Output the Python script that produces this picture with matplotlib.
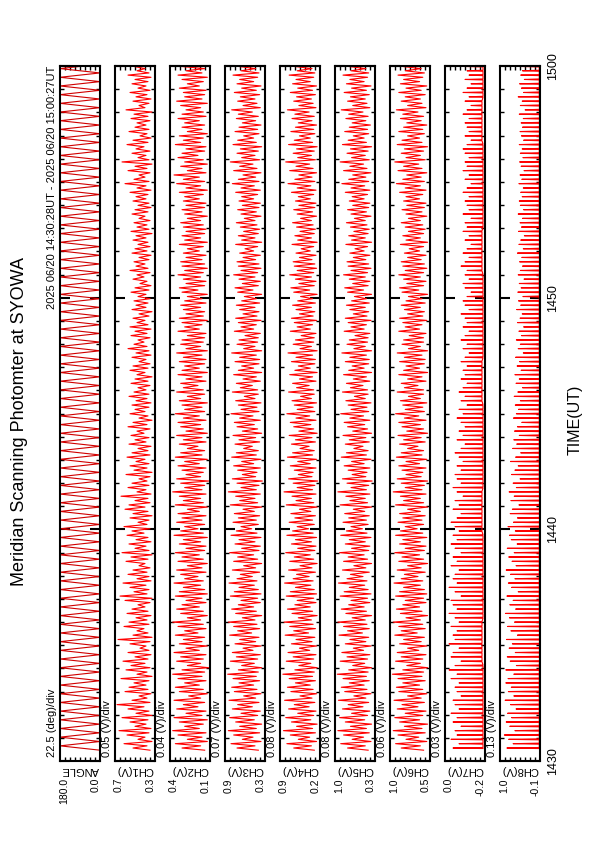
import numpy as np
import matplotlib
matplotlib.use("Agg")
import matplotlib.pyplot as plt

plt.rcParams['font.family'] = ['Liberation Sans', 'DejaVu Sans']

title = "Meridian Scanning Photomter at SYOWA"
date_text = "2025 06/20 14:30:28UT - 2025 06/20 15:00:27UT"
time_ticks = [0, 10, 20, 30]
time_labels = ["1430", "1440", "1450", "1500"]
start_min = 28 / 60.0
end_min = 30 + 27 / 60.0

channels = ["ANGLE", "CH1(V)", "CH2(V)", "CH3(V)", "CH4(V)", "CH5(V)", "CH6(V)", "CH7(V)", "CH8(V)"]
scales = ["22.5 (deg)/div", "0.05 (V)/div", "0.04 (V)/div", "0.07 (V)/div", "0.08 (V)/div",
          "0.08 (V)/div", "0.06 (V)/div", "0.03 (V)/div", "0.13 (V)/div"]
range_hi = [180.0, 0.7, 0.4, 0.9, 0.9, 1.0, 1.0, 0.0, 1.0]
range_lo = [0.0, 0.3, 0.1, 0.3, 0.2, 0.3, 0.5, -0.2, -0.1]
hi_labels = ["180.0", "0.7", "0.4", "0.9", "0.9", "1.0", "1.0", "0.0", "1.0"]
lo_labels = ["0.0", "0.3", "0.1", "0.3", "0.2", "0.3", "0.5", "-0.2", "-0.1"]

angle_turns = [0.0, 180.0] * 80 + [0.0]

ch1_peak = [0.52,0.61,0.47,0.58,0.66,0.50,0.55,0.63,0.49,0.57,0.68,0.53,0.46,0.60,0.56,0.51,
            0.64,0.48,0.59,0.54,0.62,0.50,0.57,0.45,0.55,0.67,0.52,0.48,0.61,0.56,0.49,0.58,
            0.53,0.47,0.60,0.65,0.51,0.55,0.62,0.48,0.57,0.52,0.46,0.59,0.54,0.63,0.50,0.56,
            0.49,0.58,0.53,0.61,0.47,0.55,0.52,0.60,0.56,0.50,0.64,0.48,0.57,0.53,0.46,0.59,
            0.51,0.55,0.49,0.58,0.53,0.47,0.56,0.50,0.54,0.48,0.57,0.52,0.46,0.55,0.50,0.53,
            0.49,0.56,0.51,0.47,0.54,0.50,0.48,0.55,0.52,0.46,0.53,0.49,0.57,0.51,0.47,0.54,
            0.50,0.55,0.48,0.52,0.46,0.53,0.49,0.51,0.47,0.54,0.50,0.45,0.52,0.48,0.55,0.49,
            0.51,0.46,0.53,0.50,0.47,0.52,0.49,0.54,0.48,0.51,0.46,0.53,0.50,0.47,0.52,0.49,
            0.55,0.48,0.60,0.51,0.46,0.57,0.50,0.63,0.47,0.53,0.49,0.58,0.52,0.45,0.56,0.50,
            0.48,0.54,0.51,0.59,0.46,0.52,0.49,0.55,0.47,0.53,0.50,0.57,0.48,0.51,0.46,0.54]
ch1_valley = [0.35,0.38,0.33,0.40,0.36,0.34,0.39,0.37,0.33,0.36,0.41,0.35,0.38,0.34,0.37,0.39,
              0.36,0.33,0.38,0.35,0.40,0.37,0.34,0.36,0.39,0.35,0.33,0.37,0.41,0.36,0.38,0.34,
              0.37,0.40,0.35,0.33,0.38,0.36,0.39,0.34,0.36,0.38,0.35,0.40,0.37,0.33,0.36,0.39,
              0.34,0.37,0.41,0.35,0.38,0.36,0.33,0.37,0.40,0.35,0.37,0.34,0.39,0.36,0.38,0.35,
              0.33,0.38,0.36,0.40,0.35,0.37,0.34,0.39,0.36,0.41,0.35,0.38,0.33,0.37,0.40,0.36,
              0.34,0.38,0.36,0.39,0.35,0.37,0.33,0.40,0.37,0.35,0.39,0.34,0.36,0.38,0.41,0.35,
              0.38,0.34,0.37,0.40,0.36,0.33,0.39,0.37,0.35,0.39,0.36,0.34,0.38,0.41,0.35,0.37,
              0.40,0.36,0.34,0.38,0.35,0.37,0.39,0.33,0.36,0.38,0.35,0.40,0.37,0.34,0.36,0.39,
              0.37,0.34,0.39,0.36,0.40,0.35,0.38,0.33,0.36,0.39,0.35,0.41,0.37,0.34,0.38,0.36,
              0.39,0.35,0.37,0.33,0.40,0.36,0.34,0.38,0.35,0.39,0.37,0.34,0.36,0.40,0.35,0.38]

ch2_peak = [0.31,0.36,0.27,0.34,0.38,0.29,0.33,0.37,0.28,0.35,0.30,0.37,0.26,0.33,0.36,0.29,
            0.34,0.38,0.31,0.27,0.35,0.32,0.37,0.28,0.33,0.30,0.36,0.29,0.34,0.38,0.27,0.32,
            0.35,0.31,0.28,0.36,0.33,0.30,0.37,0.29,0.32,0.35,0.27,0.34,0.31,0.36,0.28,0.33,
            0.30,0.37,0.32,0.29,0.35,0.31,0.34,0.27,0.36,0.30,0.33,0.38,0.29,0.32,0.35,0.28,
            0.31,0.34,0.29,0.36,0.32,0.27,0.33,0.30,0.35,0.28,0.32,0.34,0.30,0.36,0.29,0.31,
            0.33,0.27,0.35,0.30,0.32,0.28,0.34,0.31,0.29,0.33,0.30,0.35,0.28,0.32,0.31,0.27,
            0.34,0.29,0.31,0.33,0.28,0.30,0.32,0.29,0.27,0.31,0.33,0.28,0.30,0.34,0.29,0.31,
            0.32,0.28,0.30,0.27,0.33,0.29,0.31,0.28,0.30,0.32,0.27,0.29,0.31,0.28,0.30,0.29,
            0.33,0.28,0.35,0.30,0.37,0.27,0.32,0.29,0.34,0.31,0.28,0.36,0.30,0.33,0.27,0.31,
            0.29,0.34,0.31,0.28,0.32,0.35,0.29,0.30,0.33,0.27,0.31,0.34,0.28,0.32,0.30,0.29]
ch2_valley = [0.14,0.17,0.12,0.16,0.13,0.18,0.15,0.12,0.16,0.13,0.19,0.14,0.17,0.12,0.15,0.18,
              0.13,0.16,0.14,0.11,0.17,0.15,0.13,0.18,0.12,0.16,0.14,0.19,0.13,0.15,0.17,0.12,
              0.15,0.18,0.13,0.16,0.12,0.14,0.17,0.15,0.19,0.13,0.16,0.12,0.15,0.18,0.14,0.13,
              0.17,0.12,0.15,0.19,0.14,0.16,0.13,0.18,0.12,0.15,0.17,0.13,0.16,0.14,0.11,0.17,
              0.15,0.13,0.18,0.12,0.16,0.14,0.19,0.13,0.16,0.12,0.15,0.17,0.13,0.18,0.14,0.16,
              0.12,0.17,0.14,0.15,0.19,0.13,0.16,0.12,0.18,0.14,0.13,0.16,0.12,0.17,0.15,0.14,
              0.13,0.18,0.16,0.12,0.15,0.14,0.17,0.13,0.16,0.12,0.19,0.14,0.13,0.17,0.15,0.12,
              0.14,0.16,0.13,0.18,0.15,0.12,0.17,0.14,0.13,0.15,0.17,0.12,0.16,0.14,0.13,0.18,
              0.15,0.12,0.17,0.14,0.18,0.13,0.16,0.12,0.15,0.19,0.14,0.13,0.17,0.15,0.12,0.16,
              0.14,0.18,0.13,0.15,0.17,0.12,0.16,0.14,0.13,0.18,0.15,0.12,0.16,0.14,0.17,0.13]

ch3_peak = [0.72,0.81,0.64,0.77,0.85,0.68,0.74,0.83,0.66,0.79,0.71,0.84,0.62,0.76,0.80,0.69,
            0.78,0.86,0.70,0.65,0.82,0.73,0.79,0.63,0.75,0.68,0.83,0.71,0.77,0.85,0.64,0.74,
            0.80,0.70,0.66,0.82,0.76,0.69,0.84,0.72,0.67,0.79,0.62,0.77,0.71,0.83,0.65,0.75,
            0.69,0.81,0.73,0.66,0.78,0.70,0.76,0.63,0.82,0.68,0.74,0.85,0.66,0.72,0.79,0.64,
            0.71,0.77,0.65,0.80,0.73,0.62,0.75,0.69,0.78,0.64,0.72,0.76,0.68,0.81,0.66,0.70,
            0.74,0.61,0.79,0.67,0.73,0.63,0.77,0.70,0.65,0.75,0.68,0.80,0.62,0.72,0.69,0.60,
            0.76,0.66,0.70,0.74,0.63,0.68,0.73,0.65,0.61,0.71,0.75,0.64,0.69,0.77,0.66,0.70,
            0.72,0.63,0.68,0.60,0.74,0.65,0.70,0.62,0.67,0.73,0.61,0.66,0.71,0.64,0.69,0.65,
            0.74,0.66,0.79,0.70,0.63,0.77,0.68,0.82,0.65,0.72,0.67,0.78,0.71,0.62,0.75,0.69,
            0.64,0.73,0.70,0.80,0.63,0.71,0.67,0.76,0.65,0.72,0.68,0.78,0.66,0.70,0.62,0.73]
ch3_valley = [0.40,0.45,0.36,0.48,0.38,0.43,0.35,0.46,0.41,0.37,0.49,0.39,0.44,0.36,0.42,0.47,
              0.38,0.43,0.40,0.35,0.46,0.41,0.37,0.48,0.36,0.44,0.39,0.50,0.38,0.42,0.45,0.35,
              0.43,0.47,0.37,0.41,0.36,0.40,0.46,0.42,0.49,0.38,0.44,0.35,0.41,0.47,0.39,0.37,
              0.45,0.36,0.42,0.50,0.40,0.43,0.38,0.46,0.35,0.41,0.45,0.37,0.43,0.39,0.34,0.44,
              0.42,0.37,0.47,0.36,0.43,0.40,0.49,0.38,0.44,0.35,0.41,0.46,0.37,0.48,0.39,0.42,
              0.36,0.45,0.40,0.41,0.49,0.37,0.43,0.35,0.47,0.39,0.38,0.43,0.35,0.45,0.41,0.40,
              0.37,0.47,0.43,0.36,0.42,0.39,0.45,0.38,0.43,0.35,0.48,0.40,0.37,0.45,0.41,0.36,
              0.39,0.44,0.37,0.47,0.41,0.35,0.45,0.40,0.38,0.42,0.45,0.36,0.43,0.39,0.37,0.47,
              0.41,0.37,0.46,0.39,0.44,0.36,0.42,0.48,0.38,0.45,0.40,0.35,0.43,0.47,0.39,0.41,
              0.36,0.44,0.40,0.49,0.37,0.42,0.45,0.38,0.43,0.36,0.47,0.41,0.39,0.44,0.37,0.42]

ch4_peak = [0.66,0.78,0.58,0.72,0.84,0.61,0.70,0.80,0.59,0.75,0.65,0.82,0.55,0.71,0.77,0.63,
            0.74,0.85,0.64,0.57,0.79,0.67,0.76,0.56,0.70,0.62,0.81,0.66,0.73,0.83,0.58,0.69,
            0.77,0.64,0.60,0.79,0.72,0.63,0.82,0.67,0.61,0.75,0.55,0.73,0.65,0.80,0.59,0.70,
            0.63,0.78,0.68,0.60,0.74,0.64,0.71,0.56,0.79,0.62,0.69,0.83,0.60,0.67,0.75,0.58,
            0.65,0.72,0.59,0.77,0.68,0.55,0.70,0.63,0.74,0.57,0.66,0.72,0.62,0.78,0.60,0.65,
            0.69,0.54,0.75,0.61,0.68,0.56,0.73,0.64,0.58,0.70,0.62,0.76,0.55,0.67,0.63,0.53,
            0.72,0.60,0.65,0.70,0.56,0.62,0.68,0.59,0.54,0.66,0.71,0.57,0.63,0.73,0.60,0.65,
            0.67,0.56,0.62,0.53,0.69,0.59,0.64,0.55,0.61,0.68,0.54,0.60,0.66,0.57,0.63,0.58,
            0.70,0.60,0.76,0.64,0.57,0.73,0.62,0.80,0.59,0.67,0.61,0.75,0.65,0.56,0.71,0.63,
            0.58,0.69,0.64,0.77,0.57,0.66,0.61,0.72,0.59,0.68,0.62,0.74,0.60,0.65,0.56,0.69]
ch4_valley = [0.30,0.35,0.26,0.38,0.28,0.33,0.25,0.36,0.31,0.27,0.39,0.29,0.34,0.26,0.32,0.37,
              0.28,0.33,0.30,0.25,0.36,0.31,0.27,0.38,0.26,0.34,0.29,0.40,0.28,0.32,0.35,0.25,
              0.33,0.37,0.27,0.31,0.26,0.30,0.36,0.32,0.39,0.28,0.34,0.25,0.31,0.37,0.29,0.27,
              0.35,0.26,0.32,0.40,0.30,0.33,0.28,0.36,0.25,0.31,0.35,0.27,0.33,0.29,0.24,0.34,
              0.32,0.27,0.37,0.26,0.33,0.30,0.39,0.28,0.34,0.25,0.31,0.36,0.27,0.38,0.29,0.32,
              0.26,0.35,0.30,0.31,0.39,0.27,0.33,0.25,0.37,0.29,0.28,0.33,0.25,0.35,0.31,0.30,
              0.27,0.37,0.33,0.26,0.32,0.29,0.35,0.28,0.33,0.25,0.38,0.30,0.27,0.35,0.31,0.26,
              0.29,0.34,0.27,0.37,0.31,0.25,0.35,0.30,0.28,0.32,0.35,0.26,0.33,0.29,0.27,0.37,
              0.31,0.27,0.36,0.29,0.34,0.26,0.32,0.38,0.28,0.35,0.30,0.25,0.33,0.37,0.29,0.31,
              0.26,0.34,0.30,0.39,0.27,0.32,0.35,0.28,0.33,0.26,0.37,0.31,0.29,0.34,0.27,0.32]

ch5_peak = [0.78,0.90,0.70,0.85,0.95,0.73,0.82,0.92,0.71,0.87,0.77,0.94,0.67,0.83,0.89,0.75,
            0.86,0.96,0.76,0.69,0.91,0.79,0.88,0.68,0.82,0.74,0.93,0.78,0.85,0.95,0.70,0.81,
            0.89,0.76,0.72,0.91,0.84,0.75,0.94,0.79,0.73,0.87,0.67,0.85,0.77,0.92,0.71,0.82,
            0.75,0.90,0.80,0.72,0.86,0.76,0.83,0.68,0.91,0.74,0.81,0.95,0.72,0.79,0.87,0.70,
            0.77,0.84,0.71,0.89,0.80,0.67,0.82,0.75,0.86,0.69,0.78,0.84,0.74,0.90,0.72,0.77,
            0.81,0.66,0.87,0.73,0.80,0.68,0.85,0.76,0.70,0.82,0.74,0.88,0.67,0.79,0.75,0.65,
            0.84,0.72,0.77,0.82,0.68,0.74,0.80,0.71,0.66,0.78,0.83,0.69,0.75,0.85,0.72,0.77,
            0.79,0.68,0.74,0.65,0.81,0.71,0.76,0.67,0.73,0.80,0.66,0.72,0.78,0.69,0.75,0.70,
            0.82,0.72,0.88,0.76,0.69,0.85,0.74,0.91,0.71,0.79,0.73,0.87,0.77,0.68,0.83,0.75,
            0.70,0.81,0.76,0.89,0.69,0.78,0.73,0.84,0.71,0.80,0.74,0.86,0.72,0.77,0.68,0.81]
ch5_valley = [0.42,0.47,0.37,0.50,0.40,0.45,0.36,0.48,0.43,0.39,0.51,0.41,0.46,0.37,0.44,0.49,
              0.40,0.45,0.42,0.36,0.48,0.43,0.39,0.50,0.37,0.46,0.41,0.52,0.40,0.44,0.47,0.36,
              0.45,0.49,0.39,0.43,0.37,0.42,0.48,0.44,0.51,0.40,0.46,0.36,0.43,0.49,0.41,0.39,
              0.47,0.37,0.44,0.52,0.42,0.45,0.40,0.48,0.36,0.43,0.47,0.39,0.45,0.41,0.35,0.46,
              0.44,0.39,0.49,0.37,0.45,0.42,0.51,0.40,0.46,0.36,0.43,0.48,0.39,0.50,0.41,0.44,
              0.37,0.47,0.42,0.43,0.51,0.39,0.45,0.36,0.49,0.41,0.40,0.45,0.36,0.47,0.43,0.42,
              0.39,0.49,0.45,0.37,0.44,0.41,0.47,0.40,0.45,0.36,0.50,0.42,0.39,0.47,0.43,0.37,
              0.41,0.46,0.39,0.49,0.43,0.36,0.47,0.42,0.40,0.44,0.47,0.37,0.45,0.41,0.39,0.49,
              0.43,0.39,0.48,0.41,0.46,0.37,0.44,0.50,0.40,0.47,0.42,0.36,0.45,0.49,0.41,0.43,
              0.38,0.46,0.42,0.51,0.39,0.44,0.47,0.40,0.45,0.37,0.49,0.43,0.41,0.46,0.39,0.44]

ch6_peak = [0.86,0.93,0.80,0.90,0.96,0.82,0.88,0.94,0.81,0.91,0.85,0.95,0.78,0.89,0.92,0.84,
            0.90,0.97,0.84,0.79,0.93,0.86,0.91,0.78,0.88,0.83,0.94,0.86,0.89,0.96,0.80,0.87,
            0.92,0.84,0.81,0.93,0.88,0.83,0.95,0.86,0.82,0.91,0.78,0.89,0.85,0.94,0.81,0.88,
            0.84,0.93,0.87,0.81,0.90,0.84,0.88,0.78,0.93,0.83,0.87,0.96,0.81,0.86,0.91,0.80,
            0.85,0.89,0.80,0.92,0.86,0.78,0.88,0.83,0.90,0.79,0.85,0.89,0.82,0.93,0.81,0.84,
            0.87,0.77,0.91,0.82,0.86,0.78,0.89,0.83,0.80,0.88,0.82,0.91,0.77,0.85,0.83,0.76,
            0.89,0.81,0.84,0.88,0.78,0.82,0.86,0.80,0.77,0.85,0.88,0.79,0.83,0.89,0.81,0.84,
            0.86,0.78,0.82,0.76,0.87,0.80,0.84,0.77,0.81,0.86,0.77,0.80,0.85,0.79,0.83,0.80,
            0.88,0.81,0.92,0.84,0.79,0.90,0.83,0.94,0.80,0.86,0.82,0.91,0.85,0.78,0.89,0.83,
            0.79,0.87,0.84,0.92,0.78,0.86,0.81,0.89,0.80,0.87,0.83,0.90,0.81,0.85,0.78,0.87]
ch6_valley = [0.58,0.62,0.54,0.64,0.56,0.60,0.53,0.63,0.59,0.55,0.65,0.57,0.61,0.54,0.59,0.63,
              0.56,0.60,0.58,0.53,0.62,0.59,0.55,0.64,0.54,0.61,0.57,0.66,0.56,0.59,0.62,0.53,
              0.60,0.63,0.55,0.58,0.54,0.57,0.62,0.59,0.65,0.56,0.61,0.53,0.58,0.63,0.57,0.55,
              0.62,0.54,0.59,0.66,0.58,0.60,0.56,0.62,0.53,0.58,0.62,0.55,0.60,0.57,0.53,0.61,
              0.59,0.55,0.63,0.54,0.60,0.58,0.65,0.56,0.61,0.53,0.58,0.62,0.55,0.64,0.57,0.59,
              0.54,0.62,0.58,0.58,0.65,0.55,0.60,0.53,0.63,0.57,0.56,0.60,0.53,0.62,0.58,0.58,
              0.55,0.63,0.60,0.54,0.59,0.57,0.62,0.56,0.60,0.53,0.64,0.58,0.55,0.62,0.58,0.54,
              0.57,0.61,0.55,0.63,0.58,0.53,0.62,0.58,0.56,0.59,0.62,0.54,0.60,0.57,0.55,0.63,
              0.59,0.55,0.62,0.57,0.61,0.54,0.60,0.64,0.56,0.62,0.58,0.53,0.60,0.63,0.57,0.59,
              0.54,0.61,0.58,0.65,0.55,0.60,0.62,0.56,0.61,0.54,0.63,0.59,0.57,0.61,0.55,0.60]

ch7_peak = [-0.04,-0.07,-0.03,-0.06,-0.05,-0.08,-0.04,-0.06,-0.03,-0.07,-0.05,-0.04,-0.08,-0.06,-0.05,-0.07,
            -0.03,-0.06,-0.02,-0.05,-0.08,-0.03,-0.04,-0.07,-0.02,-0.05,-0.04,-0.06,-0.03,-0.07,-0.05,-0.02,
            -0.06,-0.04,-0.03,-0.08,-0.05,-0.02,-0.06,-0.04,-0.05,-0.07,-0.03,-0.06,-0.04,-0.08,-0.05,-0.03,
            -0.06,-0.04,-0.07,-0.05,-0.03,-0.06,-0.08,-0.04,-0.07,-0.05,-0.09,-0.06,-0.04,-0.08,-0.06,-0.05,
            -0.08,-0.06,-0.09,-0.07,-0.05,-0.08,-0.10,-0.06,-0.09,-0.07,-0.10,-0.08,-0.06,-0.09,-0.07,-0.11,
            -0.08,-0.10,-0.07,-0.09,-0.11,-0.08,-0.10,-0.09,-0.11,-0.08,-0.10,-0.12,-0.09,-0.11,-0.08,-0.10,
            -0.12,-0.09,-0.11,-0.10,-0.08,-0.12,-0.10,-0.09,-0.11,-0.13,-0.10,-0.09,-0.12,-0.10,-0.11,-0.08,
            -0.10,-0.12,-0.09,-0.11,-0.13,-0.10,-0.12,-0.09,-0.11,-0.10,-0.13,-0.09,-0.12,-0.11,-0.10,-0.12,
            -0.09,-0.11,-0.13,-0.10,-0.12,-0.09,-0.11,-0.10,-0.12,-0.10,-0.09,-0.11,-0.13,-0.10,-0.12,-0.11,
            -0.10,-0.12,-0.09,-0.11,-0.13,-0.10,-0.12,-0.09,-0.11,-0.13,-0.10,-0.12,-0.11,-0.09,-0.12,-0.10]
ch7_base = [-0.19,-0.19,-0.185,-0.19,-0.19,-0.185,-0.19,-0.19,-0.185,-0.19,-0.19,-0.185,-0.19,-0.19,-0.185,-0.19]

ch8_peak = [0.81,0.64,0.76,0.88,0.59,0.73,0.83,0.68,0.79,0.56,0.71,0.86,0.62,0.77,0.69,0.84,
            0.78,0.62,0.84,0.55,0.72,0.80,0.58,0.75,0.66,0.82,0.52,0.70,0.79,0.60,0.74,0.85,
            0.57,0.73,0.64,0.81,0.50,0.68,0.77,0.59,0.71,0.83,0.56,0.67,0.76,0.61,0.80,0.53,
            0.69,0.74,0.58,0.78,0.63,0.52,0.72,0.66,0.48,0.70,0.61,0.75,0.55,0.64,0.45,0.68,
            0.59,0.50,0.71,0.57,0.43,0.65,0.54,0.62,0.47,0.60,0.52,0.40,0.63,0.55,0.49,0.58,
            0.44,0.61,0.51,0.38,0.56,0.47,0.59,0.42,0.53,0.46,0.57,0.36,0.50,0.44,0.55,0.41,
            0.48,0.35,0.52,0.45,0.39,0.54,0.43,0.49,0.37,0.51,0.42,0.47,0.34,0.50,0.44,0.38,
            0.46,0.40,0.52,0.36,0.48,0.43,0.33,0.49,0.41,0.45,0.38,0.50,0.35,0.44,0.47,0.39,
            0.43,0.36,0.48,0.40,0.45,0.34,0.42,0.46,0.37,0.44,0.39,0.47,0.35,0.41,0.45,0.38,
            0.42,0.36,0.47,0.31,0.44,0.39,0.50,0.35,0.41,0.46,0.33,0.43,0.38,0.48,0.36,0.40]
ch8_base = [-0.08,-0.08,-0.085,-0.08,-0.08,-0.085,-0.08,-0.08,-0.085,-0.08,-0.08,-0.085,-0.08,-0.08,-0.085,-0.08]

noisy_peaks = [ch1_peak, ch2_peak, ch3_peak, ch4_peak, ch5_peak, ch6_peak]
noisy_valleys = [ch1_valley, ch2_valley, ch3_valley, ch4_valley, ch5_valley, ch6_valley]
spike_peaks = [ch7_peak, ch8_peak]
spike_bases = [ch7_base, ch8_base]


def zigzag_series(peak, valley):
    n = len(peak)
    dt = (end_min - start_min) / n
    ts, vs = [], []
    for k in range(n):
        t0 = start_min + k * dt
        ts += [t0, t0 + 0.5 * dt]
        vs += [valley[k], peak[k]]
    return ts, vs


def spike_series(peak, base, frac=0.12):
    n = len(peak)
    dt = (end_min - start_min) / n
    ts, vs = [], []
    for k, p in enumerate(peak):
        b = base[k * len(base) // n]
        t0 = start_min + k * dt
        ts += [t0 + (0.5 - frac) * dt, t0 + 0.5 * dt, t0 + (0.5 + frac) * dt]
        vs += [b, p, b]
    return ts, vs


W, H = 595, 842
fig = plt.figure(figsize=(W / 100, H / 100), dpi=100)
red = '#ff0000'

panel_top, panel_bot = 66, 761
for i in range(9):
    x0 = 60 + 55 * i
    ax = fig.add_axes([x0 / W, 1 - panel_bot / H, 40 / W, (panel_bot - panel_top) / H])
    hi, lo = range_hi[i], range_lo[i]
    if i == 0:
        t_ang = np.linspace(start_min, end_min, len(angle_turns))
        ax.plot(angle_turns, t_ang, color='#d00000', lw=0.8)
    elif i <= 6:
        ts, vs = zigzag_series(noisy_peaks[i - 1], noisy_valleys[i - 1])
        ax.plot(vs, ts, color=red, lw=0.8)
    else:
        ts, vs = spike_series(spike_peaks[i - 7], spike_bases[i - 7])
        ax.plot(vs, ts, color=red, lw=0.8)
    ax.set_xlim(hi, lo)
    ax.set_ylim(0, 30)
    for s in ax.spines.values():
        s.set_linewidth(1.5)
    ax.set_xticks(np.linspace(lo, hi, 9)[1:-1])
    ax.tick_params(axis='x', which='both', top=True, bottom=True, direction='in',
                   length=3, width=1, labelbottom=False)
    ax.set_yticks(time_ticks)
    ax.set_yticks(np.arange(0, 31, 1), minor=True)
    ax.tick_params(axis='y', which='major', left=True, right=True, direction='in',
                   length=7, width=1.5)
    ax.tick_params(axis='y', which='minor', left=True, right=True, direction='in',
                   length=3, width=1)
    if i == 8:
        ax.set_yticklabels(time_labels, rotation=90, va='center', fontsize=9)
        ax.tick_params(axis='y', labelleft=False, labelright=True, pad=5)
    else:
        ax.tick_params(axis='y', labelleft=False, labelright=False)
    ax.text(0.1, -0.0245, hi_labels[i], transform=ax.transAxes, rotation=90,
            ha='center', va='top', fontsize=7.5)
    ax.text(0.9, -0.0245, lo_labels[i], transform=ax.transAxes, rotation=90,
            ha='center', va='top', fontsize=7.5)
    fig.text((x0 + 20) / W, 1 - 770 / H, channels[i], rotation=180,
             ha='center', va='center', fontsize=8)
    fig.text((x0 - 8) / W, 1 - 757 / H, scales[i], rotation=90,
             ha='center', va='bottom', fontsize=8)

fig.text(52 / W, 1 - 66 / H, date_text, rotation=90, ha='center', va='top', fontsize=8)
fig.text(20 / W, 1 - 422 / H, title, rotation=90, ha='center', va='center', fontsize=13)
fig.text(575 / W, 1 - 420 / H, "TIME(UT)", rotation=90, ha='center', va='center', fontsize=11.5)

fig.savefig("out.png", dpi=100)
